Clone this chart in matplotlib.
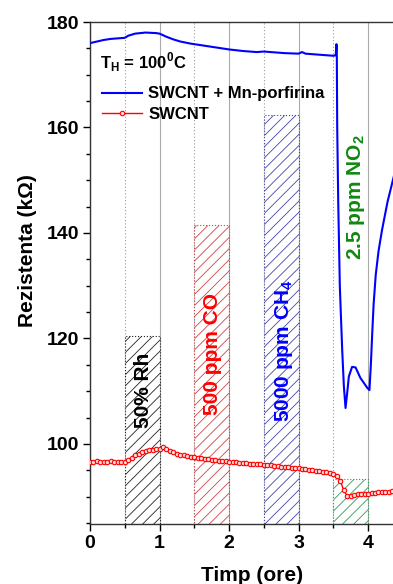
import numpy as np
import matplotlib
matplotlib.use('Agg')
import matplotlib.pyplot as plt
from matplotlib.ticker import MultipleLocator

plt.rcParams['font.family'] = ['Liberation Sans', 'DejaVu Sans']
plt.rcParams['font.weight'] = 'bold'
plt.rcParams['mathtext.fontset'] = 'custom'
plt.rcParams['mathtext.bf'] = 'Liberation Sans:bold'
plt.rcParams['mathtext.rm'] = 'Liberation Sans:bold'
plt.rcParams['hatch.linewidth'] = 0.6

# SWCNT + Mn-porfirina (linie albastra)
t_mn = [0.0, 0.1, 0.2, 0.3, 0.4, 0.5, 0.55, 0.65, 0.8, 0.95, 1.0, 1.1, 1.2, 1.3,
        1.45, 1.6, 1.8, 2.0, 2.2, 2.4, 2.5, 2.6, 2.8, 3.0, 3.05, 3.1, 3.3, 3.5,
        3.535, 3.545, 3.55, 3.556, 3.571, 3.594, 3.628, 3.652, 3.676, 3.70, 3.724,
        3.77, 3.82, 3.89, 3.99, 4.02, 4.04, 4.06, 4.08, 4.11, 4.15, 4.20, 4.28, 4.37]
r_mn = [176.0, 176.3, 176.6, 176.8, 176.9, 177.0, 177.4, 177.8, 178.0, 177.9, 177.8,
        177.2, 176.7, 176.3, 175.9, 175.6, 175.2, 174.8, 174.5, 174.3, 174.4, 174.3,
        174.1, 174.0, 174.3, 174.0, 173.8, 173.6, 173.7, 175.8, 175.0, 160.2, 145.7,
        129.8, 117.8, 110.9, 106.8, 109.7, 112.8, 114.6, 114.5, 112.5, 110.6, 110.2,
        115.0, 121.0, 126.5, 132.0, 136.5, 140.5, 145.9, 150.7]

# SWCNT (linie rosie cu cercuri), pas de 0.05 ore
t_sw = np.arange(88) * 0.05
r_sw = [96.6, 96.6, 96.7, 96.6, 96.6, 96.6, 96.7, 96.6, 96.6, 96.6, 96.5,
        97.0, 97.4, 97.8, 98.1, 98.4, 98.6, 98.8, 98.9, 99.0, 99.1, 99.5,
        99.1, 98.7, 98.4, 98.1, 97.9, 97.8, 97.7, 97.6, 97.5, 97.4, 97.3,
        97.2, 97.1, 97.0, 96.9, 96.8, 96.8, 96.7, 96.6, 96.5, 96.5, 96.4,
        96.3, 96.3, 96.2, 96.2, 96.1, 96.1, 96.0, 95.9, 95.9, 95.8, 95.8,
        95.7, 95.6, 95.6, 95.5, 95.4, 95.4, 95.3, 95.2, 95.1, 95.0, 94.9,
        94.8, 94.7, 94.6, 94.5, 94.3, 94.0, 93.0, 91.2, 90.1, 90.1, 90.3,
        90.4, 90.4, 90.5, 90.5, 90.6, 90.7, 90.8, 90.8, 90.9, 90.9, 91.0]

# zonele de expunere la gaz
gaz_start = [0.5, 1.5, 2.5, 3.5]
gaz_top = [120.5, 141.5, 162.3, 93.3]
gaz_culori = ['#222222', '#cc4444', '#4444aa', '#339955']
gaz_text = ['50% Rh', '500 ppm CO', '5000 ppm CH$_\\mathregular{4}$', '2.5 ppm NO$_\\mathregular{2}$']
text_culori = ['black', 'red', 'blue', '#118811']
text_x = [0.77, 1.76, 2.79, 3.82]
text_y = [103.0, 105.5, 104.2, 134.9]

ymin = 84.8

fig = plt.figure(figsize=(3.93, 5.84), dpi=100)
ax = fig.add_axes([0.229, 0.1027, 0.773, 0.8596])

# dreptunghiuri hasurate
for i in range(4):
    ax.bar(gaz_start[i], gaz_top[i] - ymin, bottom=ymin, width=0.5, align='edge',
           fill=False, hatch='///', edgecolor=gaz_culori[i], linestyle=':',
           linewidth=0.8, zorder=1)
    ax.text(text_x[i], text_y[i], gaz_text[i], rotation=90, ha='center', va='bottom',
            color=text_culori[i], fontsize=15, fontweight='bold', zorder=4)

ax.plot(t_mn, r_mn, color='blue', lw=1.5, label='SWCNT + Mn-porfirina', zorder=3)
ax.plot(t_sw, r_sw, color='red', lw=1.0, marker='o', ms=3.2, mfc='#ffdddd',
        mec='red', mew=0.8, label='SWCNT', zorder=3)

ax.set_xlim(0, 4.37)
ax.set_ylim(ymin, 180)
ax.xaxis.set_major_locator(MultipleLocator(1))
ax.xaxis.set_minor_locator(MultipleLocator(0.5))
ax.yaxis.set_major_locator(MultipleLocator(20))
ax.yaxis.set_minor_locator(MultipleLocator(5))
ax.tick_params(which='major', length=5, width=1, labelsize=14, pad=3)
ax.tick_params(which='minor', length=3, width=1)
for lab in ax.get_xticklabels() + ax.get_yticklabels():
    lab.set_fontweight('bold')

ax.grid(which='major', axis='x', color='#aaaaaa', lw=0.8)
ax.grid(which='minor', axis='x', color='#999999', lw=0.8, ls=(0, (1, 2)))
ax.set_axisbelow(True)
ax.spines['right'].set_visible(False)
for s in ['left', 'bottom', 'top']:
    ax.spines[s].set_linewidth(1.0)
    ax.spines[s].set_color('#333333')

ax.set_xlabel('Timp (ore)', fontsize=15, fontweight='bold')
ax.set_ylabel('Rezistenta (k\u03a9)', fontsize=15, fontweight='bold')
ax.xaxis.set_label_coords(0.533, -0.083)
ax.yaxis.set_label_coords(-0.175, 0.544)

ax.text(0.033, 0.92, r'T$_\mathregular{H}$ = 100$^\mathregular{0}$C', transform=ax.transAxes,
        fontsize=12, fontweight='bold', va='center', ha='left')
ax.legend(loc='upper left', bbox_to_anchor=(0.0, 0.895), frameon=False, fontsize=12,
          handlelength=2.4, handletextpad=0.4, labelspacing=0.35, numpoints=1,
          markerscale=1.0, borderaxespad=0.3)

plt.savefig('out.png', dpi=100)
